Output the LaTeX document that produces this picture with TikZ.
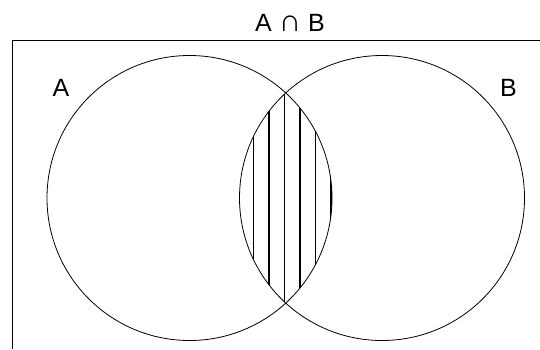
\documentclass[tikz,border=0pt]{standalone}
\usepackage{fontspec}
\setmainfont{Liberation Sans}
\begin{document}
\begin{tikzpicture}[x=1pt,y=-1pt,font=\fontsize{25}{30}\selectfont,set/.style={line width=.8pt},hatch/.style={line width=1.8pt},frame/.style={line width=.9pt}]
\useasboundingbox (0,0) rectangle (540,349);
\coordinate (ca) at (189.5,198);
\coordinate (cb) at (382,198);
% universe frame
\draw[frame] (12,349) -- (12,40) -- (540,40);
% shaded intersection
\begin{scope}
\clip (ca) circle (142.5);
\clip (cb) circle (142.5);
\foreach \x in {253.5,269,284.5,300,315.5,331}
  \draw[hatch] (\x,40) -- (\x,349);
\end{scope}
\draw[set] (ca) circle (142.5);
\draw[set] (cb) circle (142.5);
\node (title) at (290,23) {A {\fontsize{31}{31}\selectfont\bfseries ∩} B};
\node (la) at (61,88) {A};
\node (lb) at (508.5,88) {B};
\end{tikzpicture}
\end{document}
